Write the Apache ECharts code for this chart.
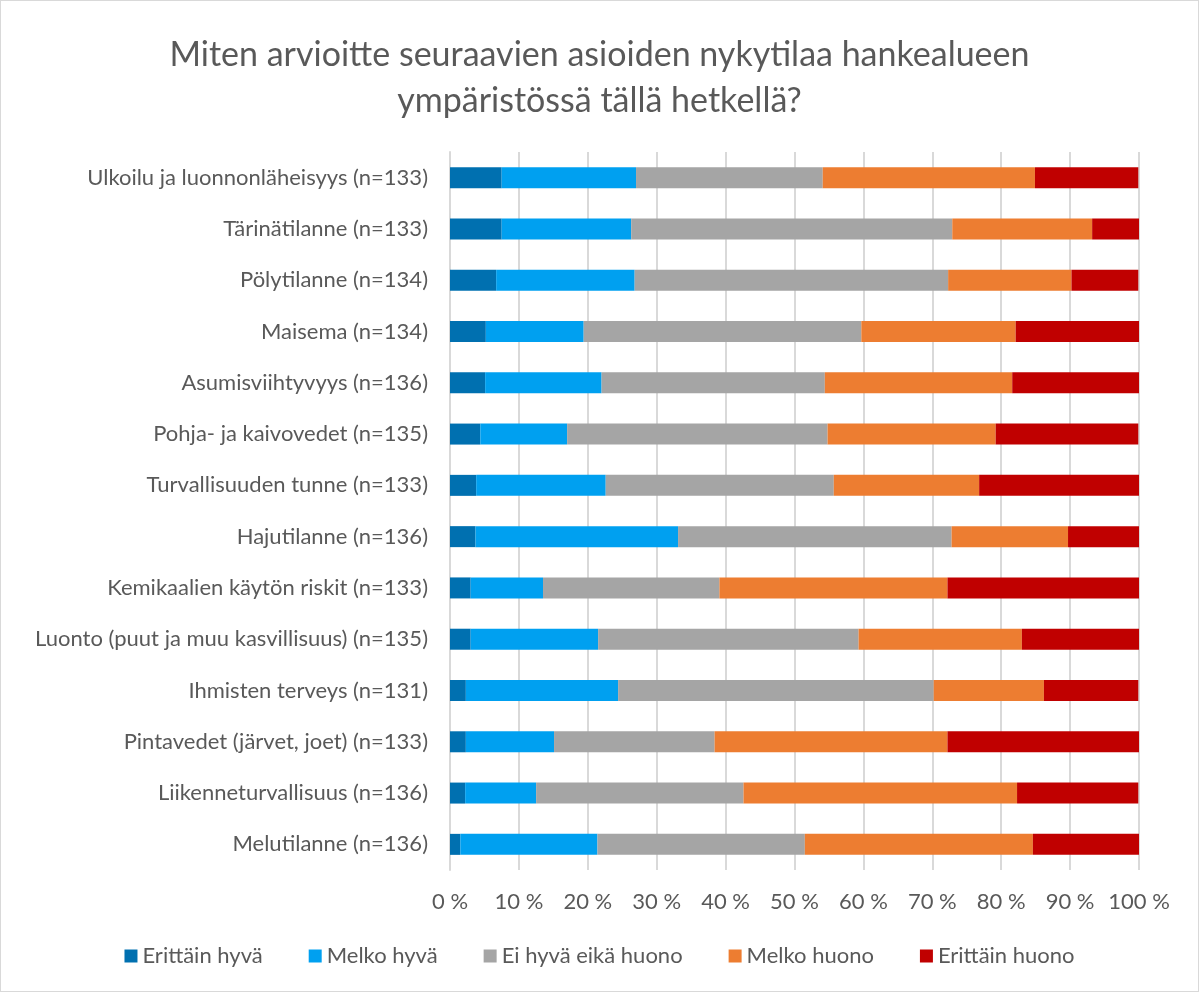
<!DOCTYPE html>
<html lang="fi">
<head>
    <meta charset="UTF-8">
    <title>Nykytila hankealueen ympäristössä</title>
    <script src="https://cdn.jsdelivr.net/npm/echarts@6/dist/echarts.min.js"></script>
    <style>
        html, body { margin: 0; padding: 0; background: #fff; }
        #main { width: 1199px; height: 992px; box-sizing: border-box; border: 1px solid #d9d9d9; }
    </style>
</head>
<body>
<div id="main"></div>
<script>
    // kysymykset ylhäältä alas
    var categories = [
        'Ulkoilu ja luonnonläheisyys (n=133)',
        'Tärinätilanne (n=133)',
        'Pölytilanne (n=134)',
        'Maisema (n=134)',
        'Asumisviihtyvyys (n=136)',
        'Pohja- ja kaivovedet (n=135)',
        'Turvallisuuden tunne (n=133)',
        'Hajutilanne (n=136)',
        'Kemikaalien käytön riskit (n=133)',
        'Luonto (puut ja muu kasvillisuus) (n=135)',
        'Ihmisten terveys (n=131)',
        'Pintavedet (järvet, joet) (n=133)',
        'Liikenneturvallisuus (n=136)',
        'Melutilanne (n=136)'
    ];

    // osuudet prosentteina, sama järjestys kuin yllä
    var erittainHyva = [7.5, 7.5, 6.7, 5.2, 5.1, 4.4, 3.8, 3.7, 3.0, 3.0, 2.3, 2.3, 2.2, 1.5];
    var melkoHyva    = [19.5, 18.8, 20.1, 14.2, 16.9, 12.6, 18.8, 29.4, 10.5, 18.5, 22.1, 12.8, 10.3, 19.9];
    var eiHyvaEika   = [27.1, 46.6, 45.5, 40.3, 32.4, 37.8, 33.1, 39.7, 25.6, 37.8, 45.8, 23.3, 30.1, 30.1];
    var melkoHuono   = [30.8, 20.3, 17.9, 22.4, 27.2, 24.4, 21.1, 16.9, 33.1, 23.7, 16.0, 33.8, 39.7, 33.1];
    var erittainHuono = [15.0, 6.8, 9.7, 17.9, 18.4, 20.7, 23.3, 10.3, 27.8, 17.0, 13.7, 27.8, 17.6, 15.4];

    var xTicks = [0, 10, 20, 30, 40, 50, 60, 70, 80, 90, 100];

    var seriesNames = ['Erittäin hyvä', 'Melko hyvä', 'Ei hyvä eikä huono', 'Melko huono', 'Erittäin huono'];
    var seriesColors = ['#0070b0', '#00a0f0', '#a5a5a5', '#ed7d31', '#c00000'];
    var seriesData = [erittainHyva, melkoHyva, eiHyvaEika, melkoHuono, erittainHuono];

    var fontName = 'Lato';
    var textColor = '#595959';

    var myChart = echarts.init(document.getElementById('main'));

    var series = seriesNames.map(function (name, i) {
        return {
            name: name,
            type: 'bar',
            stack: 'total',
            barWidth: 21,
            itemStyle: { color: seriesColors[i] },
            data: seriesData[i]
        };
    });

    var option = {
        animation: false,
        textStyle: { fontFamily: fontName },
        title: {
            text: 'Miten arvioitte seuraavien asioiden nykytilaa hankealueen\nympäristössä tällä hetkellä?',
            left: 'center',
            top: 26,
            textStyle: {
                fontFamily: fontName,
                fontSize: 34,
                fontWeight: 'normal',
                color: textColor,
                lineHeight: 46
            }
        },
        legend: {
            bottom: 19,
            left: 'center',
            itemWidth: 13,
            itemHeight: 13,
            itemGap: 46,
            icon: 'rect',
            textStyle: { fontFamily: fontName, fontSize: 22, color: textColor },
            data: seriesNames
        },
        grid: {
            left: 449,
            right: 59,
            top: 151,
            bottom: 121,
            containLabel: false
        },
        xAxis: {
            type: 'value',
            min: 0,
            max: 100,
            interval: 10,
            axisLine: { show: false },
            axisTick: { show: false },
            splitLine: { lineStyle: { color: '#d9d9d9', width: 2 } },
            axisLabel: {
                fontSize: 22,
                color: textColor,
                margin: 21,
                formatter: function (v) { return xTicks.indexOf(v) >= 0 ? v + ' %' : ''; }
            }
        },
        yAxis: {
            type: 'category',
            inverse: true,
            data: categories,
            axisLine: { lineStyle: { color: '#d9d9d9', width: 2 } },
            axisTick: { show: false },
            axisLabel: { fontSize: 22, color: textColor, margin: 22 }
        },
        series: series
    };

    myChart.setOption(option);
</script>
</body>
</html>
